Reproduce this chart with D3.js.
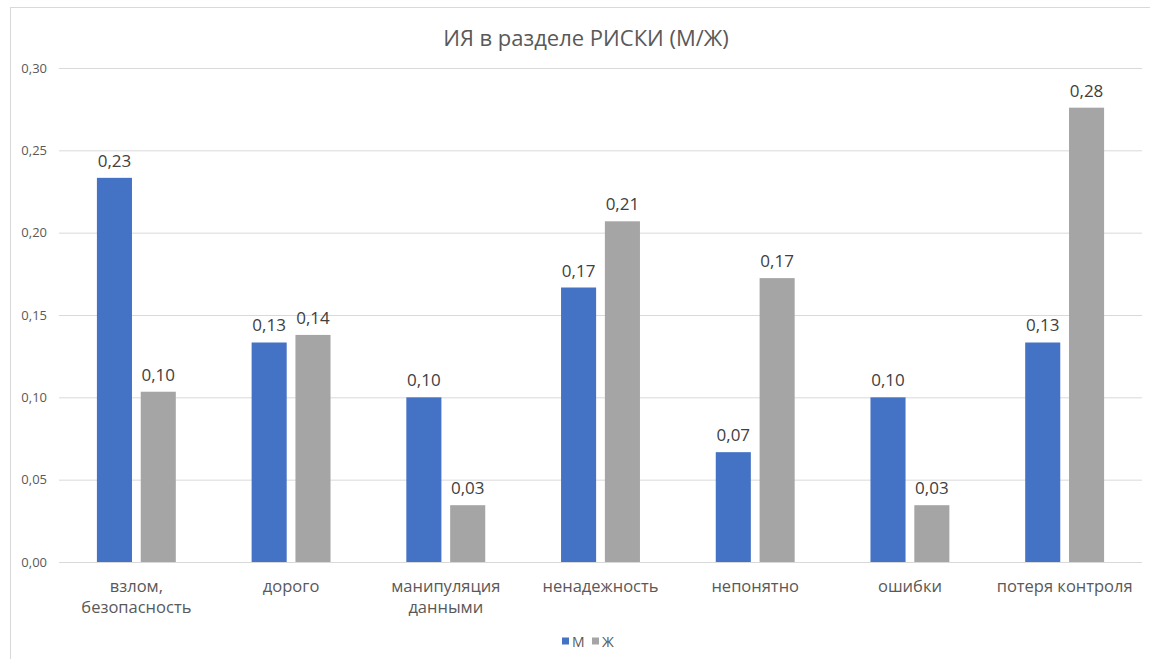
<!DOCTYPE html>
<html lang="ru">
<head>
<meta charset="utf-8">
<script src="https://cdn.jsdelivr.net/npm/d3@7"></script>
<style>
  html, body { margin: 0; padding: 0; background: #fff; }
  svg { display: block; font-family: "Open Sans", "Noto Sans", sans-serif; }
</style>
</head>
<body>
<svg id="chart" width="1150" height="659"></svg>
<script>
// Risk categories and shares per group
const categories = ["взлом,\nбезопасность", "дорого", "манипуляция\nданными", "ненадежность", "непонятно", "ошибки", "потеря контроля"];
const seriesNames = ["М", "Ж"];
const valuesM = [0.2333, 0.1333, 0.1000, 0.1667, 0.0667, 0.1000, 0.1333];
const valuesF = [0.1034, 0.1379, 0.0345, 0.2069, 0.1724, 0.0345, 0.2759];
const yTicks = [0, 0.05, 0.10, 0.15, 0.20, 0.25, 0.30];
const colors = ["#4472C4", "#A5A5A5"];

const svg = d3.select("#chart");
const W = 1150, H = 659;
const plot = { left: 59, right: 1142, top: 68, bottom: 562 };

// chart frame
svg.append("rect")
  .attr("x", 10.5).attr("y", 7.5)
  .attr("width", W + 20).attr("height", H + 20)
  .attr("fill", "#fff").attr("stroke", "#D9D9D9").attr("stroke-width", 1);

// title
svg.append("text")
  .attr("x", 586).attr("y", 46)
  .attr("text-anchor", "middle")
  .attr("font-size", 22)
  .attr("fill", "#595959")
  .text("ИЯ в разделе РИСКИ (М/Ж)");

const x = d3.scaleBand().domain(categories).range([plot.left, plot.right]).paddingInner(0.49).paddingOuter(0.245);
const xs = d3.scaleBand().domain(seriesNames).range([0, x.bandwidth()]).paddingInner(0.2);
const y = d3.scaleLinear().domain([0, 0.30]).range([plot.bottom, plot.top]);
const fmt = v => d3.format(".2f")(v).replace(".", ",");

// horizontal gridlines
const yAxis = d3.axisLeft(y).tickValues(yTicks).tickSize(-(plot.right - plot.left)).tickPadding(12).tickFormat(fmt);
const gy = svg.append("g").attr("transform", `translate(${plot.left},0)`).call(yAxis);
gy.select(".domain").remove();
gy.selectAll(".tick line").attr("stroke", "#D9D9D9").attr("stroke-width", 1);
gy.selectAll(".tick text").attr("fill", "#595959").attr("font-size", 13).attr("font-family", "\"Open Sans\", sans-serif");

const data = categories.map((c, i) => ({ cat: c, vals: [
  { s: "М", v: valuesM[i], color: colors[0] },
  { s: "Ж", v: valuesF[i], color: colors[1] }
]}));

const groups = svg.append("g").selectAll("g").data(data).join("g")
  .attr("transform", d => `translate(${x(d.cat)},0)`);

groups.selectAll("rect").data(d => d.vals).join("rect")
  .attr("x", d => xs(d.s))
  .attr("width", xs.bandwidth())
  .attr("y", d => y(d.v))
  .attr("height", d => y(0) - y(d.v))
  .attr("fill", d => d.color);

groups.selectAll("text.val").data(d => d.vals).join("text")
  .attr("class", "val")
  .attr("x", d => xs(d.s) + xs.bandwidth() / 2)
  .attr("y", d => y(d.v) - 11)
  .attr("text-anchor", "middle")
  .attr("font-size", 17)
  .attr("fill", "#404040")
  .text(d => fmt(d.v));

// category labels, wrapped on explicit line breaks
const xAxis = d3.axisBottom(x).tickSize(0).tickPadding(0);
const gx = svg.append("g").attr("transform", `translate(0,${plot.bottom})`).call(xAxis);
gx.select(".domain").remove();
gx.selectAll(".tick text").each(function(d) {
  const t = d3.select(this);
  t.text(null).attr("y", 0).attr("dy", null)
    .attr("fill", "#595959").attr("font-size", 16.5)
    .attr("font-family", "\"Open Sans\", sans-serif");
  d.split("\n").forEach((line, i) => {
    t.append("tspan").attr("x", 0).attr("y", 30 + i * 21).text(line);
  });
});

// legend
const legend = svg.append("g").attr("transform", "translate(562,637)");
const items = [{ name: seriesNames[0], color: colors[0], dx: 0 }, { name: seriesNames[1], color: colors[1], dx: 30 }];
items.forEach(it => {
  legend.append("rect").attr("x", it.dx).attr("y", 0.5).attr("width", 7).attr("height", 7).attr("fill", it.color);
  legend.append("text").attr("x", it.dx + 10).attr("y", 9.5)
    .attr("font-size", 14).attr("fill", "#595959").text(it.name);
});
</script>
</body>
</html>
